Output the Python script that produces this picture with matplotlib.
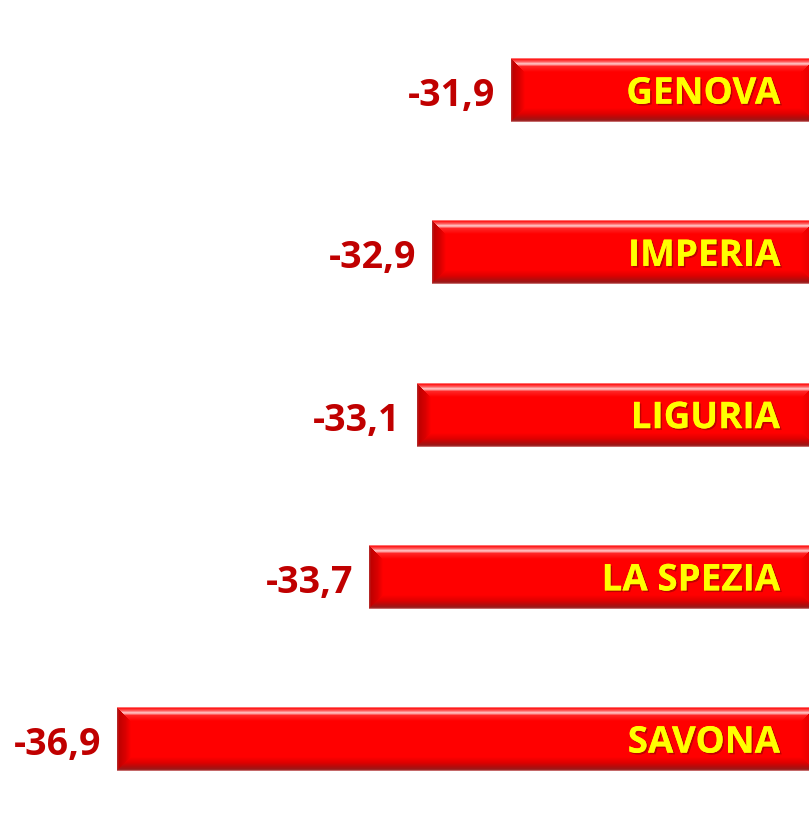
import matplotlib
matplotlib.use("Agg")
import matplotlib.pyplot as plt
import matplotlib.patheffects as pe
import numpy as np

# data (variazione %)
categories = ["GENOVA", "IMPERIA", "LIGURIA", "LA SPEZIA", "SAVONA"]
values = [-31.9, -32.9, -33.1, -33.7, -36.9]

plt.rcParams['font.family'] = ['Open Sans', 'DejaVu Sans']

W, H, DPI = 809, 814, 100
fig = plt.figure(figsize=(W / DPI, H / DPI), dpi=DPI)
ax = fig.add_axes([0, 0, 1, 1])

xmax = -28.12          # right edge of the figure
base = -28.05          # bars start just past the edge (right bevel cut)
xmin = -38.39
ax.set_xlim(xmin, xmax)
ax.set_ylim(4.462, -0.555)
ax.axis('off')

ypos = np.arange(len(categories))
bars = ax.barh(ypos, [v - base for v in values], left=base, height=0.394,
               color='#ff0000', linewidth=0, zorder=1)


def bevel_img(wpx, hpx, b=14):
    # pixel-wise bevel shading for one bar
    xx, yy = np.meshgrid(np.arange(wpx) + 0.5, np.arange(hpx) + 0.5)
    dl, dr = xx, wpx - xx
    dt, db = yy, hpx - yy
    d = np.stack([dt, db, dl, dr])
    side = np.argmin(d, axis=0)
    dmin = np.min(d, axis=0)
    t = np.clip(dmin / b, 0, 1)
    img = np.zeros((hpx, wpx, 3))
    img[:] = (1.0, 0.0, 0.0)
    profiles = {
        0: ([0, 0.1, 0.25, 0.42, 0.6, 1.0],
            [(1, .62, .62), (1, .1, .1), (1, .35, .35), (1, .8, .8), (1, .15, .15), (1, 0, 0)]),
        1: ([0, 0.12, 0.3, 0.6, 1.0],
            [(.85, .55, .55), (.6, .1, .1), (.7, .05, .05), (.88, 0, 0), (1, 0, 0)]),
        2: ([0, 0.1, 0.3, 0.7, 1.0],
            [(1, .7, .7), (.95, .2, .2), (.9, 0, 0), (.95, 0, 0), (1, 0, 0)]),
        3: ([0, 0.15, 0.6, 1.0],
            [(.7, .2, .2), (.75, 0, 0), (.85, 0, 0), (1, 0, 0)]),
    }
    for s, (tp, cols) in profiles.items():
        m = (side == s) & (dmin < b)
        cols = np.array(cols)
        for c in range(3):
            img[..., c][m] = np.interp(t[m], tp, cols[:, c])
    return img


for b in bars:
    x0, y0 = b.get_x(), b.get_y()
    x1, y1 = x0 + b.get_width(), y0 + b.get_height()
    p0 = ax.transData.transform((x0, y0))
    p1 = ax.transData.transform((x1, y1))
    wpx = int(round(abs(p1[0] - p0[0])))
    hpx = int(round(abs(p1[1] - p0[1])))
    img = bevel_img(wpx, hpx)
    # y axis inverted: y0 is top on screen
    ax.imshow(img, extent=(x0, x1, y1, y0), aspect='auto',
              interpolation='nearest', zorder=2)

ax.set_xlim(xmin, xmax)
ax.set_ylim(4.462, -0.555)

for y, v, name in zip(ypos, values, categories):
    ax.annotate(f"{v:.1f}".replace('.', ','), xy=(v, y),
                xytext=(-11.5, -11.5), textcoords='offset points',
                ha='right', va='baseline', fontsize=27, fontweight='bold',
                color='#c00000', zorder=3)
    ax.annotate(name, xy=(xmax, y), xytext=(-21, -9.8),
                textcoords='offset points', ha='right', va='baseline',
                fontsize=26.5, fontweight='bold', color='#ffff00', zorder=3,
                path_effects=[pe.withSimplePatchShadow(offset=(1.2, -1.2),
                                                        shadow_rgbFace='#700000',
                                                        alpha=0.45),
                              pe.Normal()])

fig.savefig('out.png', dpi=DPI)
